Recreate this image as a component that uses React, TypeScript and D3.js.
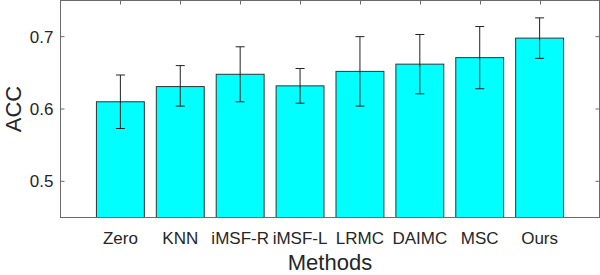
import React from "react";
import * as d3 from "d3";

const methods = ["Zero", "KNN", "iMSF-R", "iMSF-L", "LRMC", "DAIMC", "MSC", "Ours"];
const accMean = [0.610, 0.631, 0.648, 0.632, 0.652, 0.662, 0.671, 0.698];
const accUpper = [0.647, 0.660, 0.686, 0.656, 0.700, 0.703, 0.714, 0.726];
const accLower = [0.573, 0.604, 0.610, 0.608, 0.604, 0.621, 0.628, 0.670];
const yTicks = [0.5, 0.6, 0.7];

export default function App() {
  const W = 600, H = 275;
  const left = 60.5, right = 599.5, top = 0.5, bottom = 217.5;
  const x = d3.scaleLinear().domain([0, methods.length + 1]).range([left, right]);
  const y = d3.scaleLinear().domain([0.45, 0.75]).range([bottom, top]);
  const step = x(1) - x(0);
  const bw = step * 0.8;
  const axisColor = "#6b6b6b";
  const textColor = "#262626";
  const font = "Arial, 'Liberation Sans', Helvetica, sans-serif";
  const tickLen = 4;

  return (
    <svg width={W} height={H} style={{ position: "absolute", left: 0, top: 0, background: "#fff" }}>
      {methods.map((m, i) => {
        const cx = x(i + 1);
        return (
          <g key={m}>
            <rect x={cx - bw / 2} y={y(accMean[i])} width={bw} height={bottom - y(accMean[i])}
              fill="#00ffff" stroke="#333" strokeWidth={1} />
          </g>
        );
      })}
      {methods.map((m, i) => {
        const cx = x(i + 1);
        const cap = 4.5;
        return (
          <g key={"e" + m} stroke="#222" strokeWidth={1}>
            <line x1={cx} x2={cx} y1={y(accUpper[i])} y2={y(accLower[i])} />
            <line x1={cx - cap} x2={cx + cap} y1={y(accUpper[i])} y2={y(accUpper[i])} />
            <line x1={cx - cap} x2={cx + cap} y1={y(accLower[i])} y2={y(accLower[i])} />
          </g>
        );
      })}
      <rect x={left} y={top} width={right - left} height={bottom - top} fill="none" stroke={axisColor} strokeWidth={1} />
      {methods.map((m, i) => (
        <g key={"t" + m}>
          <line x1={Math.round(x(i + 1)) + 0.5} x2={Math.round(x(i + 1)) + 0.5} y1={top} y2={top + tickLen} stroke={axisColor} />
          <text x={x(i + 1)} y={243.5} textAnchor="middle" fontFamily={font} fontSize={17} fill={textColor}>{m}</text>
        </g>
      ))}
      {yTicks.map((t) => (
        <g key={"y" + t}>
          <line x1={left} x2={left + tickLen} y1={y(t)} y2={y(t)} stroke={axisColor} />
          <line x1={right} x2={right - tickLen} y1={y(t)} y2={y(t)} stroke={axisColor} />
          <text x={53.5} y={y(t)} dy="0.36em" textAnchor="end" fontFamily={font} fontSize={17} fill={textColor}>{t.toFixed(1)}</text>
        </g>
      ))}
      <text x={(left + right) / 2} y={269.5} textAnchor="middle" fontFamily={font} fontSize={22} fill={textColor}>Methods</text>
      <text transform={`translate(20.5, ${(top + bottom) / 2}) rotate(-90)`} textAnchor="middle" fontFamily={font} fontSize={22} fill={textColor}>ACC</text>
    </svg>
  );
}
